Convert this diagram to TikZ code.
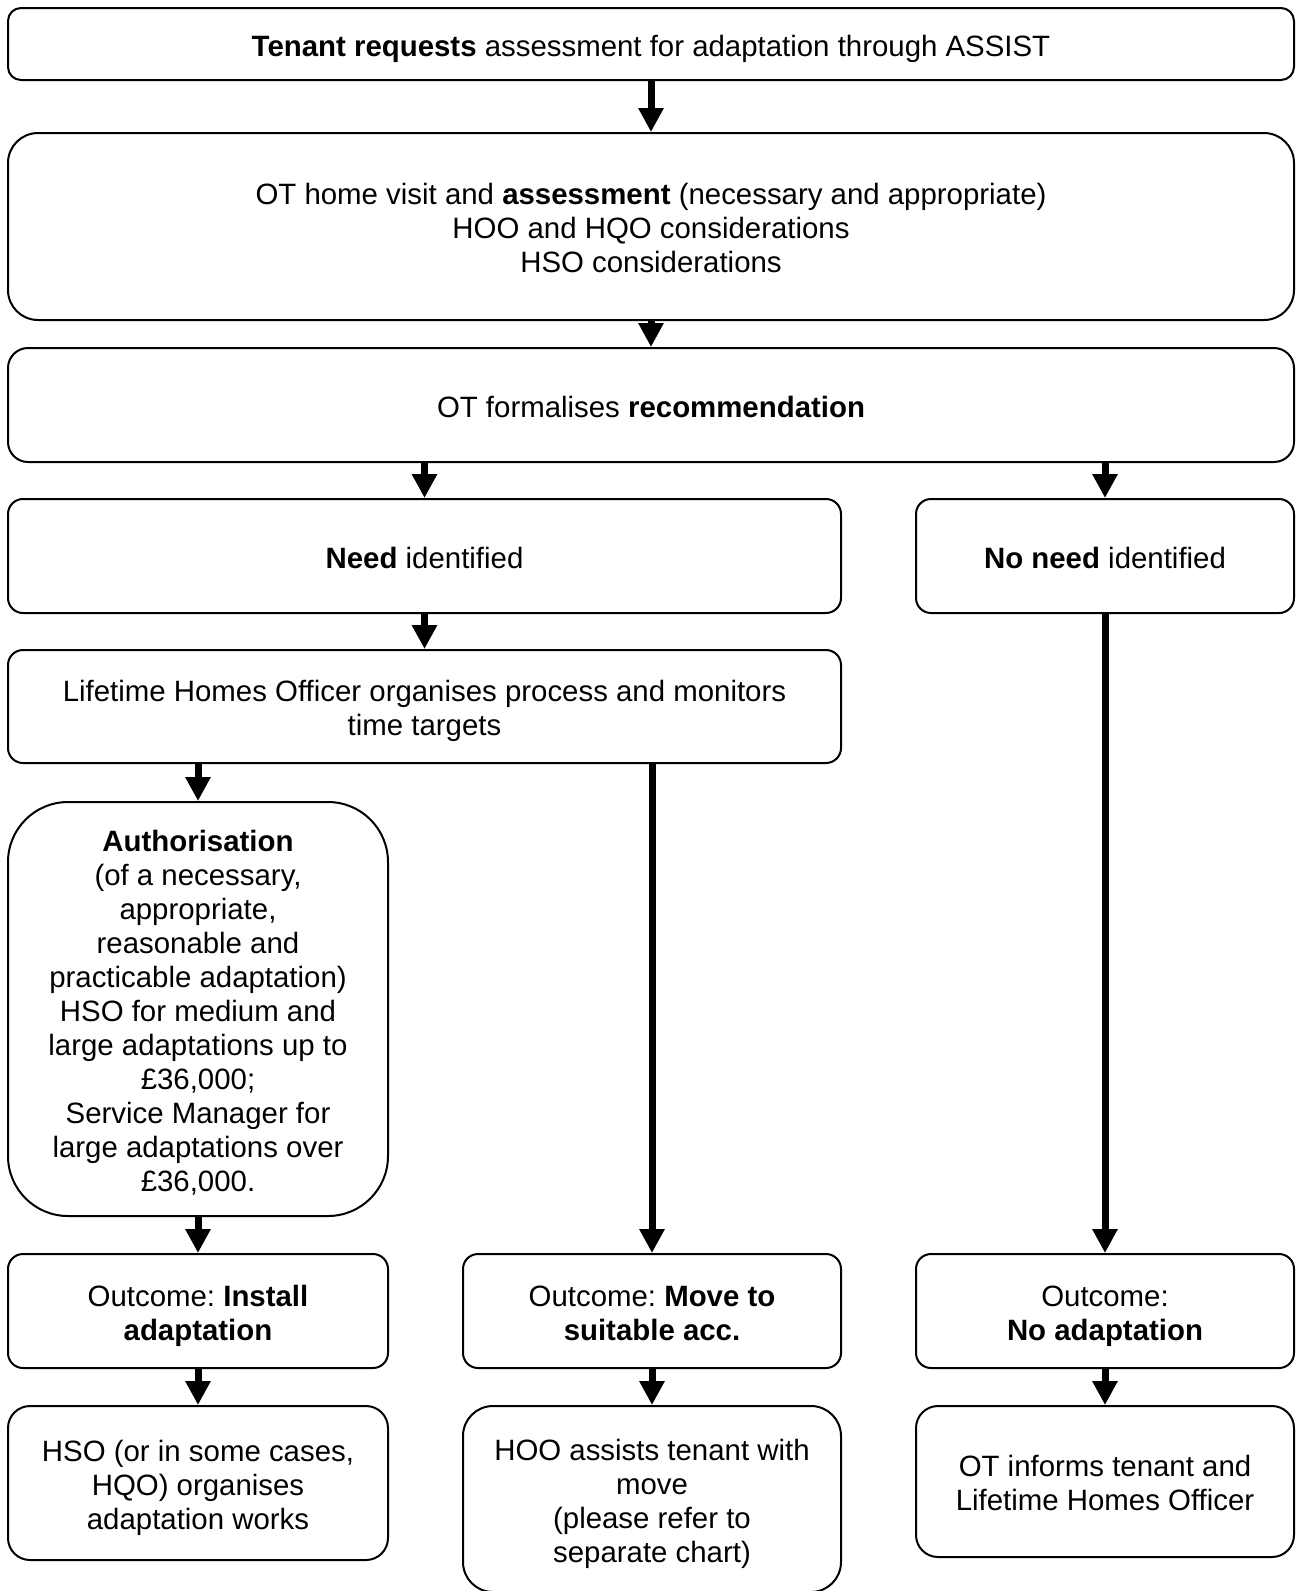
\documentclass[tikz,border=0pt]{standalone}
\usepackage{fontspec}
\setmainfont{Liberation Sans}
\usetikzlibrary{arrows.meta}
\frenchspacing
\newcommand{\ls}{\rule[-7pt]{0pt}{38pt}}
\newcommand{\boxfont}{\fontsize{29.4}{34}\selectfont\lineskiplimit=-100pt\relax}
\tikzset{
  box/.style={draw, line width=2pt, align=center, inner sep=0pt,
    font={\boxfont}},
  arr/.style={line width=7pt, -{Triangle[width=24pt,length=24pt]}},
}
\begin{document}
\begin{tikzpicture}[x=1pt,y=-1pt]
\useasboundingbox (0,0) rectangle (1296,1591);
\node[box, rounded corners=13pt, minimum width=1286pt, minimum height=72pt] (t1) at (651,44)
  {\ls\textbf{Tenant requests} assessment for adaptation through ASSIST};
\node[box, rounded corners=30pt, minimum width=1286pt, minimum height=187pt] (t2) at (651,226.5)
  {\ls OT home visit and \textbf{assessment} (necessary and appropriate)\\\ls HOO and HQO considerations\\\ls HSO considerations};
\node[box, rounded corners=20pt, minimum width=1286pt, minimum height=114pt] (t3) at (651,405)
  {\ls OT formalises \textbf{recommendation}};
\node[box, rounded corners=15pt, minimum width=833pt, minimum height=114pt] (need) at (424.5,556)
  {\ls\textbf{Need} identified};
\node[box, rounded corners=15pt, minimum width=378pt, minimum height=114pt] (noneed) at (1105,556)
  {\ls\textbf{No need} identified};
\node[box, rounded corners=15pt, minimum width=833pt, minimum height=113pt] (life) at (424.5,706.5)
  {\ls Lifetime Homes Officer organises process and monitors\\\ls time targets};
\node[box, rounded corners=60pt, minimum width=380pt, minimum height=414pt] (auth) at (198,1009)
  {\ls\textbf{Authorisation}\\\ls(of a necessary,\\\ls appropriate,\\\ls reasonable and\\\ls practicable adaptation)\\\ls HSO for medium and\\\ls large adaptations up to\\\ls £36,000;\\\ls Service Manager for\\\ls large adaptations over\\\ls £36,000.};
\node[box, rounded corners=15pt, minimum width=380pt, minimum height=114pt] (inst) at (198,1311)
  {\ls Outcome: \textbf{Install}\\\ls\textbf{adaptation}};
\node[box, rounded corners=15pt, minimum width=378pt, minimum height=114pt] (move) at (652,1311)
  {\ls Outcome: \textbf{Move to}\\\ls\textbf{suitable acc.}};
\node[box, rounded corners=15pt, minimum width=378pt, minimum height=114pt] (noad) at (1105,1311)
  {\ls Outcome:\\\ls\textbf{No adaptation}};
\node[box, rounded corners=22pt, minimum width=380pt, minimum height=154pt] (hso) at (198,1483)
  {\ls HSO (or in some cases,\\\ls HQO) organises\\\ls adaptation works};
\node[box, rounded corners=30pt, minimum width=378pt, minimum height=186pt] (hoo) at (652,1499)
  {\ls HOO assists tenant with\\\ls move\\\ls(please refer to\\\ls separate chart)};
\node[box, rounded corners=22pt, minimum width=378pt, minimum height=151pt] (ot) at (1105,1481.5)
  {\ls OT informs tenant and\\\ls Lifetime Homes Officer};
\draw[arr] (t1.south) -- (t2.north);
\draw[arr] (t2.south) -- (t3.north);
\draw[arr] (t3.south -| need.north) -- (need.north);
\draw[arr] (t3.south -| noneed.north) -- (noneed.north);
\draw[arr] (need.south) -- (life.north);
\draw[arr] (life.south -| auth.north) -- (auth.north);
\draw[arr] (life.south -| move.north) -- (move.north);
\draw[arr] (noneed.south) -- (noad.north);
\draw[arr] (auth.south) -- (inst.north);
\draw[arr] (inst.south) -- (hso.north);
\draw[arr] (move.south) -- (hoo.north);
\draw[arr] (noad.south) -- (ot.north);
\end{tikzpicture}
\end{document}
